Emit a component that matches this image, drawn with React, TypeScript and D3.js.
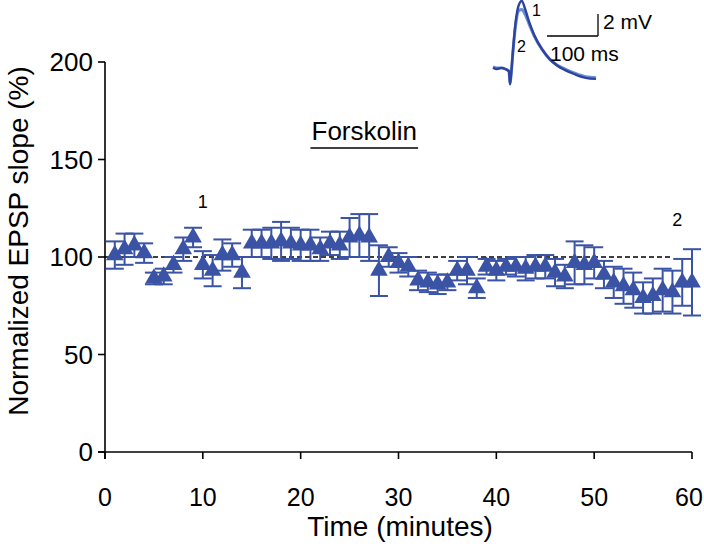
import React from "react";
import * as d3 from "d3";

const times = d3.range(1, 61);
const means = [101,104,106,102,89,90,96,104,110,96,93,101,101,92,107,107,107,108,107,106,106,104,107,106,110,111,110,93,100,97,95,88,87,86,87,93,93,84,95,93,95,95,94,95,95,92,90,97,96,97,91,87,85,83,79,80,83,82,87,87];
const sems = [7,8,6,5,3,4,4,6,5,7,8,8,6,8,7,7,8,10,8,8,8,6,6,7,10,11,12,13,5,5,5,5,5,5,4,5,7,5,4,5,4,5,6,6,6,7,6,11,10,8,7,8,9,9,8,9,11,11,12,17];
const xTicks = [0, 10, 20, 30, 40, 50, 60];
const yTicks = [0, 50, 100, 150, 200];
const baselineRange = [0, 58];
const drugRange = [21, 32];
const drugLabel = "Forskolin";
const markers = [{ t: 10, label: "1", v: 125 }, { t: 58.5, label: "2", v: 116 }];

// inset traces: time (ms), voltage (mV)
const traceT = [0, 8, 16, 24, 31, 33, 35, 39, 44, 50, 56, 62, 70, 80, 95, 110, 125, 140, 160, 180, 200];
const trace1 = [0.1, 0.0, 0.1, 0.0, -0.2, -1.4, -0.6, 1.8, 4.3, 5.8, 6.2, 5.5, 4.3, 3.1, 1.8, 0.9, 0.3, -0.1, -0.5, -0.8, -0.9];
const trace2 = [0.2, 0.1, 0.1, 0.0, -0.2, -1.3, -0.6, 1.7, 4.0, 5.3, 5.4, 5.0, 4.1, 3.0, 1.8, 0.9, 0.35, 0.0, -0.4, -0.7, -0.8];

const BLUE = "#3a53a4";
const FONT = "Liberation Sans, Arial, sans-serif";

export default function App() {
  const x = d3.scaleLinear().domain([0, 60]).range([105, 692]);
  const y = d3.scaleLinear().domain([0, 200]).range([452, 62]);

  const ix = d3.scaleLinear().domain([0, 200]).range([493, 596]);
  const iy = d3.scaleLinear().domain([0, 2]).range([69, 47]);
  const line = d3.line<number>().x((_, i) => ix(traceT[i])).y((d) => iy(d)).curve(d3.curveMonotoneX);

  const tri = d3.symbol().type(d3.symbolTriangle).size(135)();

  return (
    <svg width={704} height={550} style={{ position: "absolute", left: 0, top: 0 }} fontFamily={FONT}>
      {/* axes */}
      <line x1={105} x2={105} y1={62} y2={459} stroke="#000" strokeWidth={1.6} />
      <line x1={98} x2={692} y1={452} y2={452} stroke="#000" strokeWidth={1.6} />
      {yTicks.map((t) => (
        <g key={"y" + t}>
          <line x1={98} x2={105} y1={y(t)} y2={y(t)} stroke="#000" strokeWidth={1.6} />
          <text x={93} y={y(t) + 9} textAnchor="end" fontSize={26}>{t}</text>
        </g>
      ))}
      {xTicks.map((t) => (
        <g key={"x" + t}>
          <line x1={x(t)} x2={x(t)} y1={452} y2={459} stroke="#000" strokeWidth={1.6} />
          <text x={t === 60 ? x(t) - 3 : x(t)} y={506} textAnchor="middle" fontSize={25}>{t}</text>
        </g>
      ))}
      <text x={400} y={536} textAnchor="middle" fontSize={28}>Time (minutes)</text>
      <text transform={`translate(28,241) rotate(-90)`} textAnchor="middle" fontSize={28}>Normalized EPSP slope (%)</text>

      {/* baseline */}
      <line x1={x(baselineRange[0])} x2={x(baselineRange[1])} y1={y(100)} y2={y(100)} stroke="#000" strokeWidth={1.6} strokeDasharray="5,3" />

      {/* drug bar */}
      <line x1={x(drugRange[0])} x2={x(drugRange[1])} y1={148} y2={148} stroke="#000" strokeWidth={1.6} />
      <text x={(x(drugRange[0]) + x(drugRange[1])) / 2} y={140} textAnchor="middle" fontSize={26}>{drugLabel}</text>

      {markers.map((m) => (
        <text key={m.label} x={x(m.t)} y={y(m.v)} textAnchor="middle" fontSize={18}>{m.label}</text>
      ))}

      {/* error bars */}
      {times.map((t, i) => (
        <g key={"e" + t} stroke={BLUE} strokeWidth={2}>
          <line x1={x(t)} x2={x(t)} y1={y(means[i] - sems[i])} y2={y(means[i] + sems[i])} />
          <line x1={x(t) - 9} x2={x(t) + 9} y1={y(means[i] + sems[i])} y2={y(means[i] + sems[i])} />
          <line x1={x(t) - 9} x2={x(t) + 9} y1={y(means[i] - sems[i])} y2={y(means[i] - sems[i])} />
        </g>
      ))}
      {times.map((t, i) => (
        <path key={"p" + t} d={tri || ""} transform={`translate(${x(t)},${y(means[i])})`} fill={BLUE} />
      ))}

      {/* inset */}
      <path d={line(trace2) || ""} fill="none" stroke="#6a8fd4" strokeWidth={3} />
      <path d={line(trace1) || ""} fill="none" stroke="#2c43a0" strokeWidth={2.4} />
      <line x1={547} x2={598} y1={36} y2={36} stroke="#000" strokeWidth={1.3} />
      <line x1={598} x2={598} y1={14} y2={36} stroke="#000" strokeWidth={1.3} />
      <text x={603} y={29} fontSize={21}>2 mV</text>
      <text x={550} y={61} fontSize={21}>100 ms</text>
      <text x={532} y={16} fontSize={16}>1</text>
      <text x={517} y={52} fontSize={16}>2</text>
    </svg>
  );
}
